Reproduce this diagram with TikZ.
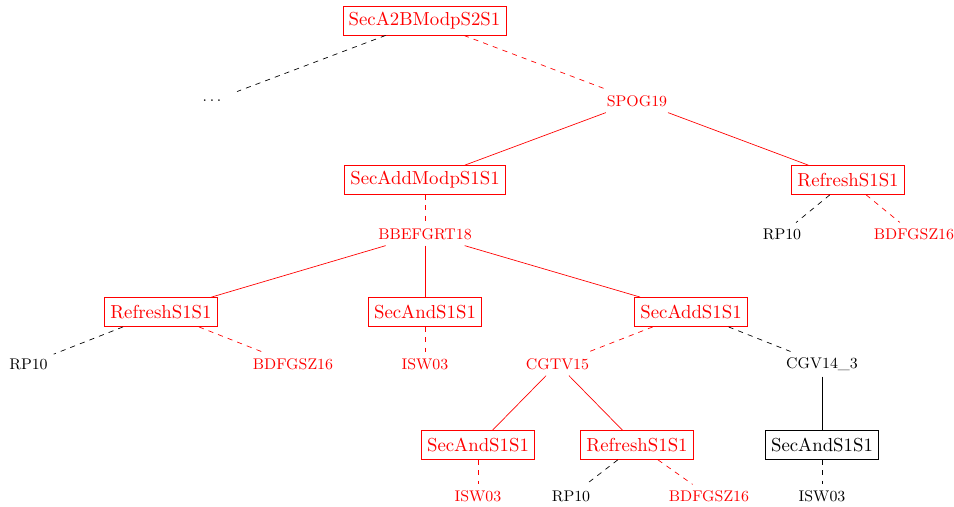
\documentclass[tikz,border=0pt]{standalone}
\begin{document}
\begin{tikzpicture}[x=0.5827pt,y=-0.5827pt,
  boxbase/.style={line width=0.4pt,inner sep=3.33pt,minimum height=17pt,font=\fontsize{10.95}{13.6}\selectfont},
  boxr/.style={boxbase,draw=red,text=red},
  boxk/.style={boxbase,draw=black,text=black},
  leafbase/.style={font=\small,inner sep=3.3pt,minimum height=12pt},
  leafr/.style={leafbase,text=red},
  leafk/.style={leafbase,text=black},
  er/.style={draw=red,line width=0.4pt},
  ek/.style={draw=black,line width=0.4pt},
  erd/.style={draw=red,dashed,line width=0.4pt},
  ekd/.style={draw=black,dashed,line width=0.4pt}]
\useasboundingbox (0,0) rectangle (954,506);
% nodes
\node[boxr] (root) at (424.5,20.5) {SecA2BModpS2S1};
\node[leafk,minimum width=35pt,minimum height=10.5pt] (dots) at (212,101) {$\cdots$};
\node[leafr] (spog) at (637,101) {SPOG19};
\node[boxr] (addmodp) at (425,180) {SecAddModpS1S1};
\node[boxr] (refR) at (848,180) {RefreshS1S1};
\node[leafk] (rpR) at (782,234) {RP10};
\node[leafr] (bdR) at (914,234) {BDFGSZ16};
\node[leafr] (bbe) at (425,234) {BBEFGRT18};
\node[boxr] (refL) at (161,312) {RefreshS1S1};
\node[boxr] (andM) at (425,312) {SecAndS1S1};
\node[boxr] (add) at (691,312) {SecAddS1S1};
\node[leafk] (rpL) at (28.5,364) {RP10};
\node[leafr] (bdL) at (293,364) {BDFGSZ16};
\node[leafr] (iswM) at (425,364) {ISW03};
\node[leafr] (cgtv) at (557.5,364) {CGTV15};
\node[leafk] (cgv) at (822,364) {CGV14\_3};
\node[boxr] (andB) at (478,445) {SecAndS1S1};
\node[boxr] (refB) at (637,445) {RefreshS1S1};
\node[boxk] (andK) at (822,445) {SecAndS1S1};
\node[leafr] (iswB) at (478,496) {ISW03};
\node[leafk] (rpB) at (571,496) {RP10};
\node[leafr] (bdB) at (709,496) {BDFGSZ16};
\node[leafk] (iswK) at (822,496) {ISW03};
% edges
\draw[ekd] (root.201) -- (dots);
\draw[erd] (root) -- (spog);
\draw[er] (spog) -- (addmodp);
\draw[er] (spog) -- (refR);
\draw[ekd] (refR) -- (rpR);
\draw[erd] (refR) -- (bdR);
\draw[erd] (addmodp) -- (bbe);
\draw[er] (bbe) -- (refL);
\draw[er] (bbe) -- (andM);
\draw[er] (bbe) -- (add);
\draw[ekd] (refL) -- (rpL);
\draw[erd] (refL) -- (bdL);
\draw[erd] (andM) -- (iswM);
\draw[erd] (add) -- (cgtv);
\draw[ekd] (add) -- (cgv);
\draw[er] (cgtv) -- (andB);
\draw[er] (cgtv) -- (refB);
\draw[ek] (cgv) -- (andK);
\draw[erd] (andB) -- (iswB);
\draw[ekd] (refB) -- (rpB);
\draw[erd] (refB) -- (bdB);
\draw[ekd] (andK) -- (iswK);
\end{tikzpicture}
\end{document}
